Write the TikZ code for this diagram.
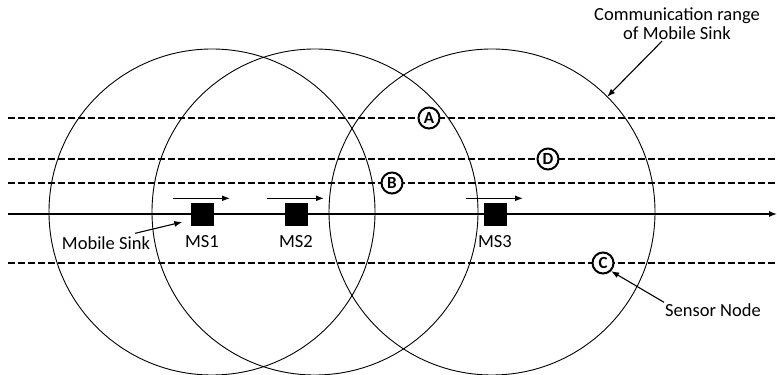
\documentclass[tikz,border=0pt]{standalone}
\usepackage{fontspec}
\setmainfont{Carlito}
\usetikzlibrary{positioning,calc,arrows.meta}

\begin{document}
\begin{tikzpicture}[x=1pt,y=1pt,>={Latex[length=8pt,width=6pt]},
    reach/.style={line width=0.9pt},
    lane/.style={line width=1.2pt,dash pattern=on 7pt off 3pt},
    sinkbox/.style={fill=black,minimum size=23pt,inner sep=0pt},
    sensor/.style={circle,draw,fill=white,line width=2pt,minimum size=21pt,inner sep=0pt,font=\fontsize{17}{17}\selectfont\bfseries},
    lbl/.style={inner sep=1pt,font=\fontsize{18.5}{19}\selectfont}]
    \useasboundingbox (0,0) rectangle (777,375);
    \def\r{163} % communication radius
    \coordinate (c1) at (212,163);
    \coordinate (c2) at (315,163);
    \coordinate (c3) at (492,163);
    \draw[reach] (c1) circle (\r);
    \draw[reach] (c2) circle (\r);
    \draw[reach] (c3) circle (\r);
    \foreach \y in {257,216,192,112} \draw[lane] (8,\y) -- (777,\y);
    \coordinate (start) at (8,161);
    \coordinate (end) at (777,161);
    \draw[line width=1.2pt,->] (start) -- (end);
    % sensor nodes
    \node[sensor] (A) at (429,257) {A};
    \node[sensor] (B) at (392,192) {B};
    \node[sensor] (D) at (548,216) {D};
    \node[sensor] (C) at (603,112) {C};
    % mobile sinks
    \foreach \n/\x in {1/202,2/296,3/495}{
        \node[sinkbox] (ms\n) at (\x,160) {};
        \node[lbl,below=8pt of ms\n] (lab\n) {MS\n};
        \draw[->,line width=1.3pt] ($(ms\n.north)+(-29,5)$) -- ++(57,0);
    }
    \node[lbl] (sinklbl) at (106,132) {Mobile Sink};
    \draw[->,line width=1.1pt] ($(sinklbl.north east)+(-16,2)$) -- ([xshift=-8pt,yshift=-7pt]ms1.west);
    \node[lbl] (senslbl) at (713,65) {Sensor Node};
    \draw[->,line width=1.1pt] (senslbl.north west) -- (C.south east);
    \node[lbl,align=center] (rangelbl) at (677,351) {Communication range\\of Mobile Sink};
    \coordinate (rim) at ($(c3)+(45:\r)$);
    \draw[->,line width=1.1pt] ([xshift=-15pt]rangelbl.south) -- (rim);
\end{tikzpicture}
\end{document}
